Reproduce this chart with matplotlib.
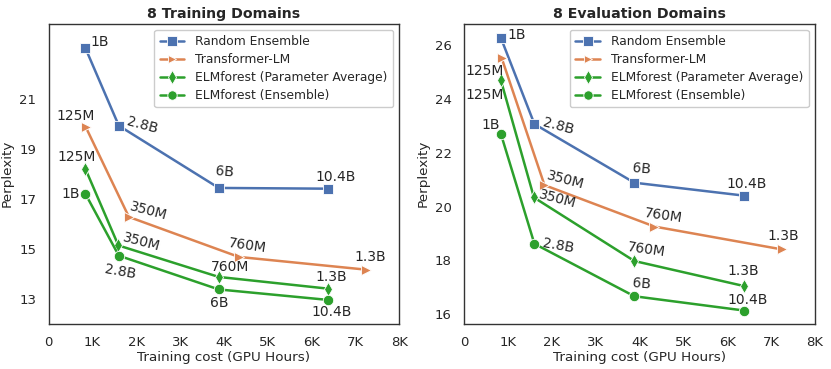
import matplotlib
matplotlib.use("Agg")
import matplotlib.pyplot as plt
import seaborn as sns

sns.set_theme(style="white")
plt.rcParams['font.family'] = ['DejaVu Sans']

# ---------------- data ----------------
series_names = ["Random Ensemble", "Transformer-LM",
                "ELMforest (Parameter Average)", "ELMforest (Ensemble)"]

# training cost (GPU hours)
x_random = [836, 1600, 3880, 6380]
x_tlm = [850, 1830, 4340, 7250]
x_pavg = [836, 1590, 3880, 6380]
x_ens = [836, 1600, 3880, 6380]

labels_random = ["1B", "2.8B", "6B", "10.4B"]
labels_tlm = ["125M", "350M", "760M", "1.3B"]
labels_pavg = ["125M", "350M", "760M", "1.3B"]
labels_ens = ["1B", "2.8B", "6B", "10.4B"]

# 8 training domains perplexity
train_random = [23.03, 19.92, 17.43, 17.40]
train_tlm = [19.85, 16.27, 14.67, 14.16]
train_pavg = [18.20, 15.13, 13.87, 13.40]
train_ens = [17.20, 14.72, 13.37, 12.95]

# 8 evaluation domains perplexity
eval_random = [26.27, 23.07, 20.89, 20.41]
eval_tlm = [25.54, 20.80, 19.26, 18.41]
eval_pavg = [24.69, 20.34, 17.98, 17.05]
eval_ens = [22.70, 18.62, 16.67, 16.14]

xticks = [0, 1000, 2000, 3000, 4000, 5000, 6000, 7000, 8000]
xticklabels = ["0", "1K", "2K", "3K", "4K", "5K", "6K", "7K", "8K"]

# ---------------- style ----------------
colors = ["#4C72B0", "#DD8452", "#2ca02c", "#2ca02c"]
markers = ["s", ">", "d", "o"]
msizes = [7.5, 7, 7.5, 7.5]

# label offsets in pixels (dx, dy) and rotations, per panel/series/point
off_train = [
    [(14, 6, 0), (23, 0, -15), (6, 16, -5), (7, 12, 0)],
    [(-10, 11, 0), (20, 6, -15), (9, 11, -8), (4, 13, 0)],
    [(-9, 12, 0), (23, 3, -15), (11, 10, 0), (3, 12, 0)],
    [(-15, 0, 0), (1, -16, -10), (1, -14, 0), (3, -12, 0)],
]
off_eval = [
    [(16, 3, 0), (24, -2, -15), (7, 14, -5), (3, 12, 0)],
    [(-17, -13, 0), (21, 5, -15), (9, 11, -8), (1, 13, 0)],
    [(-16, -15, 0), (23, -2, -15), (12, 11, -8), (-1, 15, 0)],
    [(-10, 9, 0), (24, -2, -10), (7, 12, -5), (4, 11, 0)],
]

fig = plt.figure(figsize=(8.31, 3.69), dpi=100)
ax1 = fig.add_axes([0.0586, 0.1228, 0.4219, 0.813])
ax2 = fig.add_axes([0.5587, 0.1228, 0.4219, 0.813])

xs = [x_random, x_tlm, x_pavg, x_ens]
labs = [labels_random, labels_tlm, labels_pavg, labels_ens]

for ax, ys, offs, title in [
    (ax1, [train_random, train_tlm, train_pavg, train_ens], off_train, "8 Training Domains"),
    (ax2, [eval_random, eval_tlm, eval_pavg, eval_ens], off_eval, "8 Evaluation Domains"),
]:
    for i in range(4):
        ax.plot(xs[i], ys[i], color=colors[i], marker=markers[i], markersize=msizes[i],
                markeredgecolor="white", markeredgewidth=0.6, linewidth=1.8,
                label=series_names[i])
        for j in range(4):
            dx, dy, rot = offs[i][j]
            ax.annotate(labs[i][j], (xs[i][j], ys[i][j]), xytext=(dx, dy),
                        textcoords="offset pixels", ha="center", va="center",
                        fontsize=10, rotation=rot, color="#262626")
    ax.set_xlim(0, 8000)
    ax.set_xticks(xticks)
    ax.set_xticklabels(xticklabels)
    ax.set_xlabel("Training cost (GPU Hours)", fontsize=9.7, labelpad=1)
    ax.set_ylabel("Perplexity", fontsize=9.7, labelpad=4)
    ax.set_title(title, fontsize=10.2, fontweight="bold", pad=4)
    ax.tick_params(labelsize=9.5, pad=3)
    for s in ax.spines.values():
        s.set_edgecolor("#333333")
        s.set_linewidth(1.0)
    ax.legend(loc="upper right", fontsize=8.8, handlelength=2.0, borderpad=0.45,
              labelspacing=0.4, handletextpad=0.9, framealpha=1, markerscale=0.9)

ax1.set_ylim(12, 24)
ax1.set_yticks([13, 15, 17, 19, 21])
ax2.set_ylim(15.65, 26.8)
ax2.set_yticks([16, 18, 20, 22, 24, 26])

fig.savefig("out.png", dpi=100)
